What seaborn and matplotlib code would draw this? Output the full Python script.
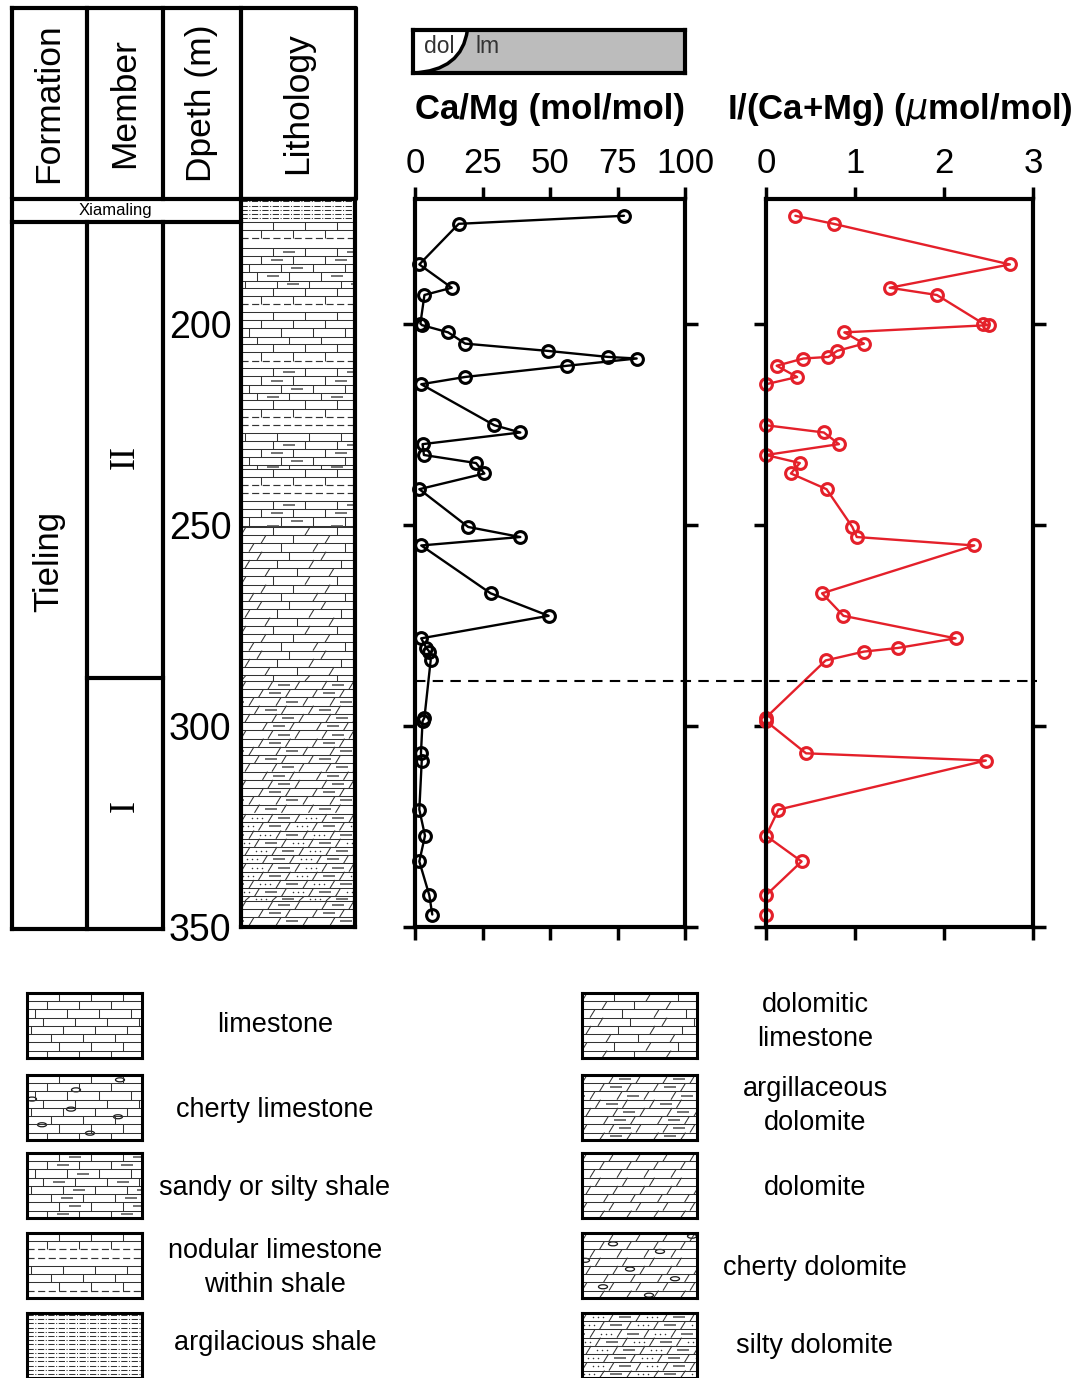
import numpy as np
import matplotlib
matplotlib.use("Agg")
import matplotlib.pyplot as plt
import seaborn as sns
from matplotlib.collections import LineCollection
from matplotlib.patches import Ellipse, PathPatch
from matplotlib.path import Path
from matplotlib.lines import Line2D

# ---------------- data ----------------
depth = [173.1, 175.1, 185.2, 191.0, 192.8, 199.9, 200.3, 202.1, 204.9, 206.7,
         208.2, 208.6, 210.4, 213.2, 215.0, 225.2, 227.0, 229.9, 232.6, 234.6,
         237.2, 241.1, 250.5, 253.0, 255.1, 267.0, 272.6, 278.2, 280.6, 281.5,
         283.7, 297.9, 298.8, 306.8, 308.6, 320.8, 327.3, 333.7, 342.1, 346.9]
ca_mg = [77.4, 16.2, 1.6, 13.6, 3.5, 2.0, 2.6, 12.3, 18.6, 49.1,
         71.4, 82.1, 56.4, 18.5, 2.3, 29.4, 39.0, 2.8, 3.3, 22.6,
         25.7, 1.6, 19.7, 39.0, 2.3, 28.0, 49.5, 2.3, 4.2, 5.3,
         5.8, 3.5, 2.8, 2.2, 2.5, 1.6, 3.7, 1.6, 5.3, 6.4]
i_camg = [0.33, 0.76, 2.74, 1.39, 1.92, 2.44, 2.50, 0.88, 1.10, 0.80,
          0.70, 0.42, 0.12, 0.35, 0.00, 0.00, 0.65, 0.82, 0.00, 0.38,
          0.28, 0.68, 0.97, 1.02, 2.34, 0.63, 0.87, 2.13, 1.48, 1.10,
          0.67, 0.00, 0.00, 0.45, 2.47, 0.14, 0.00, 0.40, 0.00, 0.00]

camg_ticks = [0, 25, 50, 75, 100]
icamg_ticks = [0, 1, 2, 3]
depth_ticks = [200, 250, 300, 350]
depth_top, depth_bottom = 169.0, 350.0
xiamaling_base = 174.6
member_boundary = 288.9

litho_top = [169.0, 174.6, 181.0, 191.0, 197.0, 205.0, 211.0, 219.0, 229.0,
             236.0, 244.0, 250.5, 288.8, 321.9, 343.5]
litho_base = [174.6, 181.0, 191.0, 197.0, 205.0, 211.0, 219.0, 229.0, 236.0,
              244.0, 250.5, 288.8, 321.9, 343.5, 350.0]
litho_kind = ["argillaceous shale", "nodular", "sandy shale", "nodular", "limestone",
              "nodular", "sandy shale", "nodular", "sandy shale", "nodular",
              "sandy shale", "dolomitic limestone", "argillaceous dolomite",
              "silty dolomite", "argillaceous dolomite"]

legend_left_kind = ["limestone", "cherty limestone", "sandy shale", "nodular", "argillaceous shale"]
legend_left_text = ["limestone", "cherty limestone", "sandy or silty shale",
                    "nodular limestone\nwithin shale", "argilacious shale"]
legend_right_kind = ["dolomitic limestone", "argillaceous dolomite", "dolomite",
                     "cherty dolomite", "silty dolomite"]
legend_right_text = ["dolomitic\nlimestone", "argillaceous\ndolomite", "dolomite",
                     "cherty dolomite", "silty dolomite"]

# ---------------- style ----------------
sns.set_style("ticks", {"axes.edgecolor": "black", "xtick.color": "black",
                        "ytick.color": "black", "text.color": "black",
                        "axes.labelcolor": "black"})
plt.rcParams["font.family"] = ["Liberation Sans", "DejaVu Sans"]

W, H = 1092, 1378
fig = plt.figure(figsize=(W / 100, H / 100), dpi=100)
RED = "#e4202a"


def px_axes(x0, y0, x1, y1, **kw):
    return fig.add_axes([x0 / W, 1 - y1 / H, (x1 - x0) / W, (y1 - y0) / H], **kw)


def draw_pattern(ax, kind, y0, y1, x0=0.0, x1=115.0, h=2.05):
    solid, dashed, short, dots = [], [], [], []
    if kind == "argillaceous shale":
        for y in np.arange(y0 + 0.5, y1, 1.05):
            dashed.append([(x0, y), (x1, y)])
        ax.add_collection(LineCollection(dashed, colors="0.2", linewidths=0.75,
                                         linestyles=[(0, (6, 1.5, 1, 1.5))]))
        return
    dolo = kind in ("dolomite", "argillaceous dolomite", "cherty dolomite", "silty dolomite")
    brick = 27 if dolo else 32
    for k, ya in enumerate(np.arange(y0, y1 - 0.3, h)):
        yb = min(ya + h, y1)
        if kind == "nodular" and k % 5 in (2, 3):
            dashed.append([(x0, ya), (x1, ya)])
            continue
        solid.append([(x0, ya), (x1, ya)])
        off = (k % 2) * brick / 2 + (k % 3) * 4
        for j, x in enumerate(np.arange(x0 + off - brick, x1 + brick, brick)):
            if dolo:
                s = 5
            elif kind == "dolomitic limestone":
                s = 5 if j % 2 else 0
            else:
                s = 0
            solid.append([(x, yb), (x + s, ya)])
            xm, ym = x + brick / 2 + s / 2, (ya + yb) / 2
            if kind in ("sandy shale", "argillaceous dolomite", "silty dolomite") and (j + k) % 2 == 0:
                short.append([(xm - 6, ym), (xm + 6, ym)])
            elif kind == "silty dolomite":
                dots += [(xm - 5, ym), (xm, ym), (xm + 5, ym)]
    ax.add_collection(LineCollection(solid, colors="0.2", linewidths=0.75))
    if dashed:
        ax.add_collection(LineCollection(dashed, colors="0.2", linewidths=0.85,
                                         linestyles=[(0, (6, 3))]))
    if short:
        ax.add_collection(LineCollection(short, colors="0.3", linewidths=1.1))
    if dots:
        d = np.array(dots)
        ax.scatter(d[:, 0], d[:, 1], s=1.2, color="0.2", linewidths=0)


chert_limestone = [(93, 1.2), (49, 3.7), (5, 6.0), (44, 8.5), (91, 10.4), (15, 12.4), (63, 14.5)]
chert_dolomite = [(110, 0.8), (31, 2.7), (78, 4.6), (3, 6.8), (48, 9.0), (93, 11.4), (21, 13.4), (67, 15.5)]

# ---------------- data panels ----------------
ax1 = px_axes(415, 199.3, 685, 927)
ax2 = px_axes(766, 199.3, 1033, 927)
sns.lineplot(x=ca_mg, y=depth, orient="y", sort=False, estimator=None, ax=ax1,
             color="black", lw=1.7, marker="o", ms=8.5, mfc="none", mec="black",
             mew=2.2, clip_on=False)
sns.lineplot(x=i_camg, y=depth, orient="y", sort=False, estimator=None, ax=ax2,
             color=RED, lw=1.7, marker="o", ms=8.5, mfc="none", mec=RED,
             mew=2.2, clip_on=False)

for ax, ticks, lab in [(ax1, camg_ticks, "Ca/Mg (mol/mol)"),
                       (ax2, icamg_ticks, r"I/(Ca+Mg) ($\mu$mol/mol)")]:
    ax.set_xlim(ticks[0], ticks[-1])
    ax.set_ylim(depth_bottom, depth_top)
    ax.set_xticks(ticks)
    ax.set_yticks(depth_ticks)
    ax.tick_params(axis="x", top=True, bottom=True, labeltop=True, labelbottom=False,
                   direction="out", length=9, width=2.5, labelsize=25, pad=5)
    ax.tick_params(axis="y", left=True, right=True, labelleft=False, direction="out",
                   length=9, width=2.5)
    for sp in ax.spines.values():
        sp.set_visible(True)
        sp.set_linewidth(3)
    ax.xaxis.set_label_position("top")
    ax.set_xlabel(lab, fontsize=25, fontweight="bold", labelpad=20)
    ax.set_ylabel("")

# dashed member boundary across both panels
p0 = fig.transFigure.inverted().transform(ax1.transData.transform((0, member_boundary)))
p1 = fig.transFigure.inverted().transform(ax2.transData.transform((3, member_boundary)))
fig.add_artist(Line2D([p0[0], p1[0] + 4 / W], [p0[1], p1[1]], transform=fig.transFigure,
                      color="black", lw=1.5, ls=(0, (5, 3.5))))

# ---------------- dol / lm bar ----------------
axb = px_axes(413, 30, 685, 73)
axb.set_xlim(0, 100)
axb.set_ylim(0, 1)
axb.set_facecolor("#bcbcbc")
axb.set_xticks([])
axb.set_yticks([])
for sp in axb.spines.values():
    sp.set_linewidth(3)
verts = [(0, 0), (0, 1), (20, 1), (18, 0.05), (0, 0), (0, 0)]
codes = [Path.MOVETO, Path.LINETO, Path.LINETO, Path.CURVE3, Path.CURVE3, Path.CLOSEPOLY]
axb.add_patch(PathPatch(Path(verts, codes), facecolor="white", edgecolor="none"))
axb.add_patch(PathPatch(Path([(20, 1), (18, 0.05), (0, 0)], [Path.MOVETO, Path.CURVE3, Path.CURVE3]),
                        facecolor="none", edgecolor="black", lw=2.5))
axb.text(9.8, 0.62, "dol", ha="center", va="center", fontsize=16.5, color="#333333")
axb.text(27.5, 0.62, "lm", ha="center", va="center", fontsize=16.5, color="#333333")

# ---------------- lithology column ----------------
axl = px_axes(241, 199.3, 355, 927)
axl.set_xlim(0, 114)
axl.set_ylim(depth_bottom, depth_top)
for t, b, k in zip(litho_top, litho_base, litho_kind):
    draw_pattern(axl, k, t, b, 0, 114)
axl.set_xticks([])
axl.set_yticks(depth_ticks)
axl.tick_params(axis="y", length=0, pad=7, labelsize=27)
for sp in axl.spines.values():
    sp.set_visible(True)
    sp.set_linewidth(3)

# ---------------- stratigraphy columns ----------------
axs = px_axes(11, 199.3, 241, 927)
axs.set_xlim(11, 241)
axs.set_ylim(depth_bottom, depth_top)
axs.axis("off")
LW = 3
kw = dict(color="black", lw=LW, clip_on=False, solid_capstyle="projecting")
axs.plot([12, 12], [depth_top, depth_bottom + 0.5], **kw)
axs.plot([87, 87], [xiamaling_base, depth_bottom + 0.5], **kw)
axs.plot([163, 163], [xiamaling_base, depth_bottom + 0.5], **kw)
axs.plot([12, 241], [xiamaling_base, xiamaling_base], **kw)
axs.plot([12, 163], [depth_bottom + 0.5, depth_bottom + 0.5], **kw)
axs.plot([87, 163], [member_boundary - 0.8, member_boundary - 0.8], **kw)
axs.text(115, (depth_top + xiamaling_base) / 2, "Xiamaling", ha="center", va="center", fontsize=12)
axs.text(49, 259, "Tieling", rotation=90, ha="center", va="center", fontsize=25)
axs.text(125, 233, "II", rotation=90, ha="center", va="center", fontsize=26, family="Liberation Serif")
axs.text(125, 320, "I", rotation=90, ha="center", va="center", fontsize=26, family="Liberation Serif")

# ---------------- header + legend overlay ----------------
ov = fig.add_axes([0, 0, 1, 1], zorder=-1)
ov.set_xlim(0, W)
ov.set_ylim(H, 0)
ov.axis("off")
hk = dict(color="black", lw=LW, solid_capstyle="projecting")
ov.plot([12, 356, 356, 12, 12], [8, 8, 199, 199, 8], **hk)
for x in (87, 163, 241):
    ov.plot([x, x], [8, 199], **hk)
for x, s in [(49, "Formation"), (125, "Member"), (201, "Dpeth (m)"), (298, "Lithology")]:
    ov.text(x, 103, s, rotation=90, ha="center", va="center", fontsize=25.5)

left_rows = [993, 1075, 1153, 1233, 1313]
left_y = [1025, 1110, 1188, 1268, 1343]
right_y = [1022, 1106, 1188, 1268, 1346]
for i, top in enumerate(left_rows):
    for bx, kind, txt, ty, tx in [(27, legend_left_kind[i], legend_left_text[i], left_y[i], 275),
                                  (582, legend_right_kind[i], legend_right_text[i], right_y[i], 815)]:
        axg = px_axes(bx, top, bx + 115, top + 65)
        axg.set_xlim(0, 115)
        axg.set_ylim(16.2, 0)
        draw_pattern(axg, kind, 0, 16.2, 0, 115)
        if kind == "cherty limestone":
            for cx, cy in chert_limestone:
                axg.add_patch(Ellipse((cx, cy), 9, 1.0, fill=False, lw=0.9, ec="0.1"))
        if kind == "cherty dolomite":
            for cx, cy in chert_dolomite:
                axg.add_patch(Ellipse((cx, cy), 9, 1.0, fill=False, lw=0.9, ec="0.1"))
        axg.set_xticks([])
        axg.set_yticks([])
        for sp in axg.spines.values():
            sp.set_visible(True)
            sp.set_linewidth(2.2)
        ov.text(tx, ty, txt, ha="center", va="center", fontsize=19.5, linespacing=1.4)

fig.savefig("out.png", dpi=100)
